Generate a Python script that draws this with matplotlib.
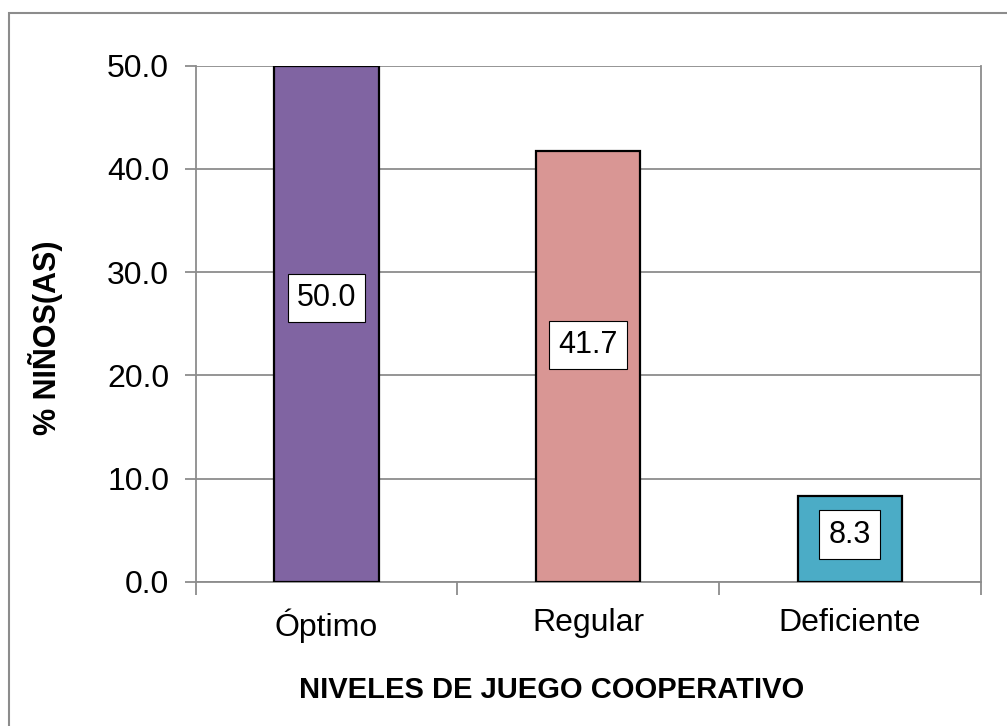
import matplotlib.pyplot as plt
from matplotlib.patches import Rectangle

plt.rcParams['font.family'] = ['Liberation Sans', 'DejaVu Sans']

categorias = ["Óptimo", "Regular", "Deficiente"]
porcentajes = [50.0, 41.7, 8.3]
colores = ["#8064A2", "#D99694", "#4BACC6"]
yticks = [0, 10, 20, 30, 40, 50]

W, H = 1007, 726
fig = plt.figure(figsize=(W / 100, H / 100), dpi=100)
ax = fig.add_axes([195.6 / W, 1 - 581.7 / H, (980.7 - 195.6) / W, (581.7 - 65.7) / H])

# outer chart frame (only left/top edges visible in the crop)
fig.patches.append(Rectangle((9 / W, -0.1), 1.2, 1 - 13 / H + 0.1, transform=fig.transFigure,
                             fill=False, edgecolor="#8c8c8c", linewidth=1.5))

x = range(len(categorias))
ax.bar(x, porcentajes, width=0.4, color=colores, edgecolor="black", linewidth=1.6, zorder=3)

for i, v in enumerate(porcentajes):
    ax.text(i, v * 0.55, f"{v:.1f}", ha="center", va="center", fontsize=22, zorder=4,
            bbox=dict(boxstyle="square,pad=0.3", facecolor="white", edgecolor="black", linewidth=0.8))

ax.set_xlim(-0.5, 2.5)
ax.set_ylim(0, 50)
ax.set_yticks(yticks)
ax.set_yticklabels([f"{t:.1f}" for t in yticks], fontsize=23)
ax.yaxis.grid(True, color="#8c8c8c", linewidth=1.3, zorder=0)
ax.set_xticks([-0.5, 0.5, 1.5, 2.5])
ax.set_xticklabels([])
ax.set_xticks(list(x), minor=True)
ax.set_xticklabels(categorias, minor=True, fontsize=23)
ax.tick_params(axis="x", which="minor", length=0, pad=19)
ax.tick_params(axis="x", which="major", length=9, color="#8c8c8c", width=1.3)
ax.tick_params(axis="y", length=8, color="#8c8c8c", width=1.3, pad=11)
for s in ax.spines.values():
    s.set_color("#8c8c8c")
    s.set_linewidth(1.3)
ax.spines["top"].set_visible(False)

fig.text(552 / W, 1 - 690 / H, "NIVELES DE JUEGO COOPERATIVO", ha="center", va="center",
         fontsize=21, fontweight="bold")
fig.text(46 / W, 1 - 338 / H, "% NIÑOS(AS)", ha="center", va="center", rotation=90,
         fontsize=22, fontweight="bold")

fig.savefig("out.png", dpi=100)
